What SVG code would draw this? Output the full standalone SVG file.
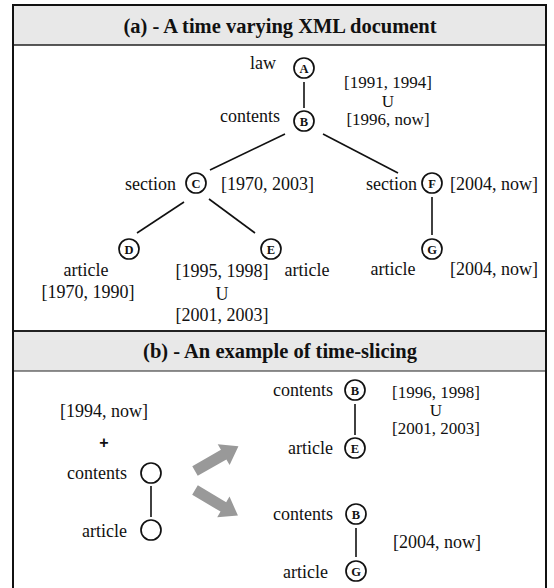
<svg xmlns="http://www.w3.org/2000/svg" width="554" height="588" viewBox="0 0 554 588">
<style>
.lbl{font-family:"Liberation Serif","Times New Roman",serif;font-size:18px;fill:#111}
.stk{font-size:17px}
.ttl{font-family:"Liberation Serif","Times New Roman",serif;font-size:20.5px;font-weight:bold;fill:#111;text-anchor:middle}
.nd{fill:#fff;stroke:#111;stroke-width:1.7}
.nl{font-family:"Liberation Serif","Times New Roman",serif;font-size:12.5px;font-weight:bold;fill:#111;text-anchor:middle}
.e{stroke:#111;stroke-width:1.6;fill:none}
.r{text-anchor:end}
.m{text-anchor:middle}
.arr{fill:#999}
</style>
<rect x="0" y="0" width="554" height="588" fill="#fff"/>
<rect x="13" y="5" width="533" height="40" fill="#e8e8e8"/>
<rect x="13" y="331" width="533" height="40" fill="#e8e8e8"/>
<line x1="13" y1="45" x2="546" y2="45" stroke="#222" stroke-width="1.5"/>
<line x1="13" y1="331" x2="546" y2="331" stroke="#222" stroke-width="2"/>
<line x1="13" y1="371" x2="546" y2="371" stroke="#222" stroke-width="1.2"/>
<rect x="13" y="5" width="533" height="600" fill="none" stroke="#111" stroke-width="2"/>
<text class="ttl" x="280" y="33">(a) - A time varying XML document</text>
<text class="ttl" x="280" y="358">(b) - An example of time-slicing</text>

<g id="connectors">
<line class="e" x1="304" y1="82" x2="304" y2="108"/>
<line class="e" x1="285" y1="134" x2="210" y2="170"/>
<line class="e" x1="323" y1="134" x2="398" y2="173"/>
<line class="e" x1="184" y1="202" x2="137" y2="233"/>
<line class="e" x1="209" y1="199" x2="255" y2="233"/>
<line class="e" x1="432" y1="197" x2="432" y2="235"/>
<line class="e" x1="355" y1="404" x2="355" y2="435"/>
<line class="e" x1="151" y1="486" x2="151" y2="517"/>
<line class="e" x1="356" y1="528" x2="356" y2="557"/>
<polygon class="arr" transform="translate(195,471) rotate(-29.7)" points="0,-5.5 33,-5.5 33,-12 50,0 33,12 33,5.5 0,5.5"/>
<polygon class="arr" transform="translate(195,490) rotate(30.8)" points="0,-5.5 33,-5.5 33,-12 50,0 33,12 33,5.5 0,5.5"/>
</g>

<g id="nodeA"><circle class="nd" cx="304" cy="68" r="10"/><text class="nl" x="304" y="72.5">A</text><text class="lbl r" x="276" y="69">law</text></g>
<g id="nodeB"><circle class="nd" cx="304" cy="121" r="10"/><text class="nl" x="304" y="125.5">B</text><text class="lbl r" x="280" y="122">contents</text>
<text class="lbl stk m" x="388" y="88">[1991, 1994]</text><text class="lbl stk m" x="388" y="106.5">U</text><text class="lbl stk m" x="388" y="125">[1996, now]</text></g>
<g id="nodeC"><circle class="nd" cx="196" cy="183" r="10"/><text class="nl" x="196" y="187.5">C</text><text class="lbl r" x="176" y="190">section</text><text class="lbl" x="221" y="190">[1970, 2003]</text></g>
<g id="nodeF"><circle class="nd" cx="432" cy="183" r="10"/><text class="nl" x="432" y="187.5">F</text><text class="lbl r" x="417" y="190">section</text><text class="lbl" x="450" y="190">[2004, now]</text></g>
<g id="nodeD"><circle class="nd" cx="129" cy="249" r="10"/><text class="nl" x="129" y="253.5">D</text><text class="lbl m" x="86" y="276">article</text><text class="lbl m" x="88" y="298">[1970, 1990]</text></g>
<g id="nodeE"><circle class="nd" cx="271" cy="249" r="10"/><text class="nl" x="271" y="253.5">E</text><text class="lbl m" x="222" y="277">[1995, 1998]</text><text class="lbl m" x="222" y="300">U</text><text class="lbl m" x="222" y="321">[2001, 2003]</text><text class="lbl m" x="307" y="276">article</text></g>
<g id="nodeG"><circle class="nd" cx="432" cy="249" r="10"/><text class="nl" x="432" y="253.5">G</text><text class="lbl m" x="393" y="275">article</text><text class="lbl" x="450" y="275">[2004, now]</text></g>

<g id="slice-query"><text class="lbl m" x="104" y="417">[1994, now]</text><text x="104" y="448" style="font-family:'Liberation Sans',Arial,sans-serif;font-size:16px;font-weight:bold;fill:#111;text-anchor:middle">+</text></g>
<g id="q-contents"><circle class="nd" cx="151" cy="473" r="10"/><text class="lbl r" x="127" y="479">contents</text></g>
<g id="q-article"><circle class="nd" cx="151" cy="530" r="10"/><text class="lbl r" x="127" y="537">article</text></g>
<g id="r1-B"><circle class="nd" cx="355" cy="390" r="10"/><text class="nl" x="355" y="394.5">B</text><text class="lbl r" x="333" y="396">contents</text></g>
<g id="r1-E"><circle class="nd" cx="355" cy="448" r="10"/><text class="nl" x="355" y="452.5">E</text><text class="lbl r" x="333" y="454">article</text></g>
<g id="r1-time"><text class="lbl stk m" x="436" y="398">[1996, 1998]</text><text class="lbl stk m" x="436" y="416">U</text><text class="lbl stk m" x="436" y="434">[2001, 2003]</text></g>
<g id="r2-B"><circle class="nd" cx="356" cy="514" r="10"/><text class="nl" x="356" y="518.5">B</text><text class="lbl r" x="333" y="520">contents</text></g>
<g id="r2-G"><circle class="nd" cx="356" cy="571" r="10"/><text class="nl" x="356" y="575.5">G</text><text class="lbl r" x="328" y="578">article</text></g>
<g id="r2-time"><text class="lbl m" x="437" y="548">[2004, now]</text></g>
</svg>
